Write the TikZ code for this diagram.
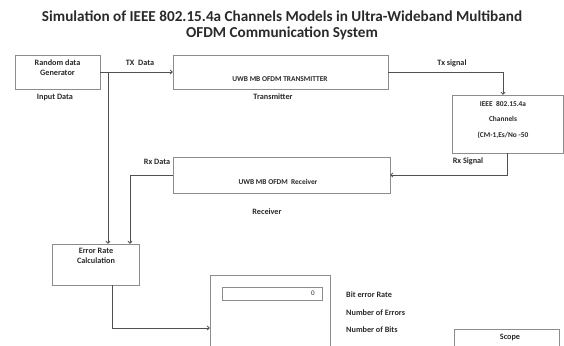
\documentclass[tikz,border=0pt]{standalone}
\usepackage{fontspec}
\setmainfont{Carlito}
\usetikzlibrary{arrows.meta}
\definecolor{boxgray}{HTML}{8C8C8C}
\definecolor{wiregray}{HTML}{505050}
\definecolor{inkgray}{HTML}{2A2A2A}
\begin{document}
\begin{tikzpicture}[x=1pt,y=-1pt,
  blk/.style={draw=boxgray, line width=0.7pt, fill=white, minimum width=#1, inner sep=0pt},
  lbl/.style={font=\bfseries\fontsize{8.2}{9}\selectfont, text=inkgray, inner sep=0pt},
  inner/.style={font=\bfseries\fontsize{7.4}{8}\selectfont, text=inkgray, inner sep=0pt},
  ttl/.style={font=\bfseries\fontsize{15.2}{18}\selectfont, text=inkgray, inner sep=0pt},
  wire/.style={draw=wiregray, line width=0.8pt},
  arr/.style={wire, -{To[length=3pt,width=5pt]}}]
\clip (0,0) rectangle (564,345);
\fill[white] (0,0) rectangle (564,345);

% title
\node[ttl] (t1) at (282,16) {Simulation of IEEE 802.15.4a Channels Models in Ultra-Wideband Multiband};
\node[ttl] (t2) at (282,33) {OFDM Communication System};

% blocks
\node[blk=85, minimum height=34] (gen) at (57.5,72) {};
\node[blk=215, minimum height=34] (tx) at (280.5,72) {};
\node[blk=111, minimum height=58] (chan) at (507.5,124) {};
\node[blk=217, minimum height=36] (rx) at (281.5,175) {};
\node[blk=87, minimum height=41] (err) at (95.5,264.5) {};
\node[blk=120, minimum height=85] (disp) at (270,317.5) {};
\node[blk=100, minimum height=13] (field) at (272,293.5) {};
\node[blk=105, minimum height=40] (scope) at (506.5,349) {};

% text inside blocks
\node[lbl] (genA) at (57.5,63) {Random data};
\node[lbl] (genB) at (57.5,73) {Generator};
\node[inner] (txT) at (280,79) {UWB MB OFDM TRANSMITTER};
\node[inner] (chA) at (503,104) {IEEE\ \ 802.15.4a};
\node[inner] (chB) at (503,119) {Channels};
\node[inner] (chC) at (503,135) {(CM-1,Es/No -50};
\node[inner] (rxT) at (278,182) {UWB MB OFDM\ \ Receiver};
\node[lbl] (erA) at (96,251) {Error Rate};
\node[lbl] (erB) at (96,261) {Calculation};
\node[inner, font=\fontsize{7}{8}\selectfont] (zero) at (313,293) {0};
\node[lbl] (scT) at (510,337) {Scope};

% captions
\node[lbl] (inD) at (55,97) {Input Data};
\node[lbl] (txD) at (140,63) {TX\ \ Data};
\node[lbl] (txC) at (273,97) {Transmitter};
\node[lbl] (txS) at (452,63) {Tx signal};
\node[lbl] (rxS) at (468,161) {Rx Signal};
\node[lbl] (rxD) at (157,162) {Rx Data};
\node[lbl] (rxC) at (267,212) {Receiver};
\node[lbl, anchor=west] (ber) at (346,295) {Bit error Rate};
\node[lbl, anchor=west] (noe) at (346,313) {Number of Errors};
\node[lbl, anchor=west] (nob) at (346,330) {Number of Bits};

% connectors
\coordinate (br) at (108,72);
\draw[arr] (gen.east) -- (tx.west);
\draw[arr] (br) -- (br |- err.north);
\draw[arr] (tx.east) -| ([xshift=-4.5]chan.north);
\draw[arr] (chan.south) |- (rx.east);
\draw[arr] (rx.west) -| ([xshift=34.5]err.north);
\draw[arr] ([xshift=16.5]err.south) |- ([yshift=-10.5]disp.west);
\end{tikzpicture}
\end{document}
